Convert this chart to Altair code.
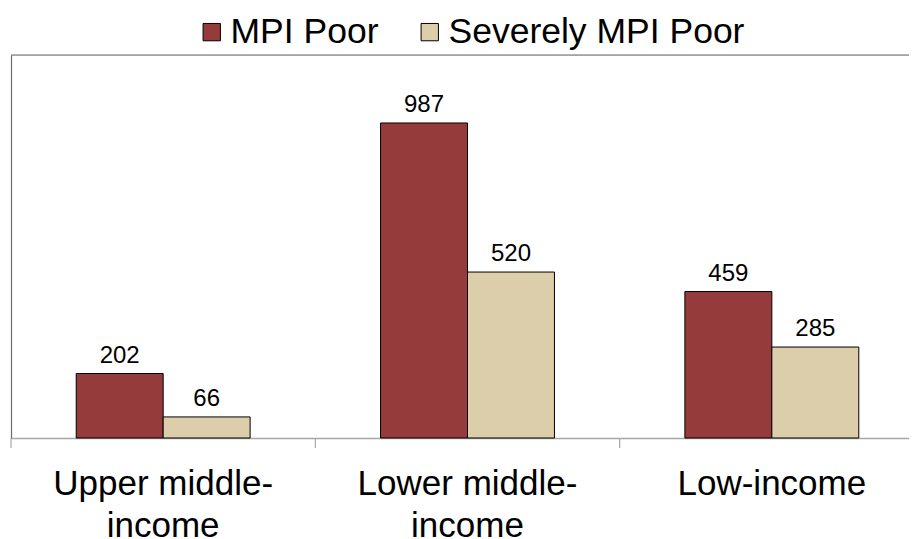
import altair as alt
import pandas as pd

categories = ["Upper middle-income", "Lower middle-income", "Low-income"]
series = ["MPI Poor", "Severely MPI Poor"]
mpi_poor = [202, 987, 459]
severely_mpi_poor = [66, 520, 285]
colors = ["#953B3B", "#DDCEAB"]

rows = []
for i, c in enumerate(categories):
    rows.append({"group": c, "series": series[0], "value": mpi_poor[i]})
    rows.append({"group": c, "series": series[1], "value": severely_mpi_poor[i]})
df = pd.DataFrame(rows)

FONT = "Liberation Sans"
W, H = 898, 383
XR = 913  # full extent of the x range (the part past W is clipped by the page edge)

xenc = alt.X(
    "group:N",
    sort=categories,
    scale=alt.Scale(paddingInner=0, paddingOuter=0, range=[0, XR]),
    axis=alt.Axis(
        title=None,
        ticks=False,
        labelAngle=0,
        labelFont=FONT,
        labelFontSize=35,
        labelColor="black",
        labelLineHeight=42,
        labelBaseline="alphabetic",
        labelPadding=56,
        labelLimit=0,
        domainColor="#A6A6A6",
        domainWidth=1.5,
        labelExpr="indexof(datum.label, 'middle') >= 0 ? [replace(datum.label, 'income', ''), 'income'] : datum.label",
    ),
)
xoff = alt.XOffset("series:N", sort=series,
                   scale=alt.Scale(paddingOuter=0.75, paddingInner=0))
yenc = alt.Y(
    "value:Q",
    scale=alt.Scale(domain=[0, 1200], nice=False),
    axis=alt.Axis(title=None, labels=False, ticks=False, grid=False,
                  domainColor="#6B6B6B", domainWidth=1.2),
)

base = alt.Chart(df)

bars = base.mark_bar(stroke="black", strokeWidth=1).encode(
    x=xenc,
    xOffset=xoff,
    y=yenc,
    color=alt.Color(
        "series:N",
        sort=series,
        scale=alt.Scale(domain=series, range=colors),
        legend=alt.Legend(
            title=None,
            orient="none",
            direction="horizontal",
            legendX=183,
            legendY=-41,
            padding=0,
            symbolType="square",
            symbolSize=300,
            symbolStrokeColor="black",
            symbolStrokeWidth=1,
            symbolOpacity=1,
            labelFont=FONT,
            labelFontSize=35.5,
            labelColor="black",
            labelOffset=1,
            columnPadding=33,
            labelLimit=0,
        ),
    ),
)

labels = base.mark_text(
    font=FONT, fontSize=24, color="black", baseline="alphabetic", dy=-11
).encode(
    x=alt.X("group:N", sort=categories),
    xOffset=alt.XOffset("series:N", sort=series),
    y="value:Q",
    text="value:Q",
)

ticks = alt.Chart(pd.DataFrame({"group": categories})).mark_rule(
    color="#A6A6A6", strokeWidth=1.2
).encode(
    x=alt.X("group:N", sort=categories, bandPosition=0),
    y=alt.value(H),
    y2=alt.value(H + 10),
)

top_border = alt.Chart(pd.DataFrame({"group": categories[:1]})).mark_rule(
    color="#6B6B6B", strokeWidth=1.2
).encode(
    x=alt.value(0),
    x2=alt.value(XR),
    y=alt.value(0),
)

chart = alt.layer(bars, labels, ticks, top_border).properties(
    width=W,
    height=H,
    autosize=alt.AutoSizeParams(type="none"),
    padding={"left": 3, "top": 47, "right": 0, "bottom": 101},
).configure_view(stroke=None).configure(background="white")

chart.save("out.html", embed_options={"renderer": "svg", "actions": False})
